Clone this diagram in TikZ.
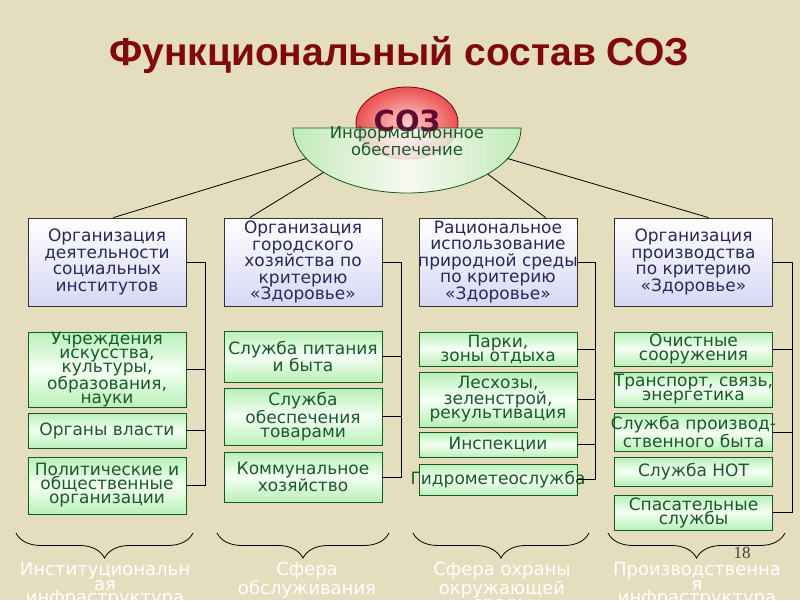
\documentclass[tikz,border=0pt]{standalone}
\usepackage{fontspec}
\setmainfont{DejaVu Sans}
\newfontfamily\titlefont{Liberation Sans}
\newfontfamily\pagefont{Liberation Serif}
\usetikzlibrary{shapes.geometric,decorations.pathreplacing,calc}

\definecolor{paper}{RGB}{228,221,190}
\definecolor{titlered}{RGB}{128,10,10}
\definecolor{navytext}{RGB}{40,40,90}
\definecolor{greentext}{RGB}{25,90,40}
\definecolor{greenline}{RGB}{20,90,30}
\definecolor{lavender}{RGB}{215,215,245}
\definecolor{paleg}{RGB}{185,240,185}
\definecolor{sozred}{RGB}{235,80,80}
\definecolor{sozpink}{RGB}{255,205,205}
\definecolor{sozborder}{RGB}{120,0,20}
\definecolor{soztext}{RGB}{95,10,50}

\tikzset{
  headbox/.style={draw=black!80, top color=white, bottom color=lavender,
    minimum width=158, minimum height=88, inner sep=0pt},
  headtext/.style={text=navytext, align=center, inner sep=0pt,
    font=\fontsize{17}{16.5}\selectfont},
  itembox/.style={draw=greenline, top color=paleg, bottom color=paleg,
    middle color=green!4, minimum width=158, inner sep=0pt},
  itemtext/.style={text=greentext, align=center, inner sep=0pt,
    font=\fontsize{17}{14}\selectfont},
  foottext/.style={text=white, align=center, anchor=north, inner sep=0pt,
    font=\fontsize{18}{13.5}\selectfont},
  bracket/.style={decorate, decoration={brace, mirror, amplitude=25}},
}

\begin{document}
\begin{tikzpicture}[x=1pt, y=-1pt, line width=0.8pt]
  % Background
  \fill[paper] (0,0) rectangle (800,600);
  \useasboundingbox (0,0) rectangle (800,600);
  \clip (0,0) rectangle (800,600);

  % Title
  \node[text=titlered, anchor=base, inner sep=0pt,
    font=\titlefont\bfseries\fontsize{39}{39}\selectfont] (title) at (399,65)
    {Функциональный состав СОЗ};

  % SOZ and the information half-disc
  \node[ellipse, draw=sozborder, inner color=sozpink, outer color=sozred,
    minimum width=102, minimum height=72] (soz) at (407,123) {};
  \coordinate (io) at (407,128);
  \draw[greenline, left color=paleg, right color=paleg, middle color=white,
    fill opacity=0.8] (io) ++(-114,0)
    arc[start angle=180, end angle=0, x radius=114, y radius=65] -- cycle;
  \node[text=soztext, inner sep=0pt,
    font=\bfseries\fontsize{29}{29}\selectfont] (sozt) at (407,121) {СОЗ};
  \node[text=greentext, align=center, inner sep=0pt,
    font=\fontsize{16.5}{13}\selectfont] (info) at (407,141)
    {Информационное\\обеспечение};

  % Head boxes
  \foreach \n/\x/\t in {
      b1/107/{Организация\\деятельности\\социальных\\институтов},
      b2/303/{Организация\\городского\\хозяйства по\\критерию\\«Здоровье»},
      b3/498/{Рациональное\\использование\\природной среды\\по критерию\\«Здоровье»},
      b4/693.5/{Организация\\производства\\по критерию\\«Здоровье»}} {
      \node[headbox] (\n) at (\x,262) {};
      \node[headtext] (\n t) at (\n) {\t};
    }

  % Item boxes
  \foreach \n/\x/\y/\h/\t in {
      u1/107/369.5/75/{Учреждения\\искусства,\\культуры,\\образования,\\науки},
      u2/107/430.5/35/{Органы власти},
      u3/107/485.5/57/{Политические и\\общественные\\организации},
      v1/303/356.5/51/{Служба питания\\и быта},
      v2/303/416.5/57/{Служба\\обеспечения\\товарами},
      v3/303/477/50/{Коммунальное\\хозяйство},
      w1/498/349/34/{Парки,\\зоны отдыха},
      w2/498/399.5/55/{Лесхозы,\\зеленстрой,\\рекультивация},
      w3/498/444.5/25/{Инспекции},
      w4/498/479.5/31/{Гидрометеослужба},
      z1/693.5/349/34/{Очистные\\сооружения},
      z2/693.5/389.5/35/{Транспорт, связь,\\энергетика},
      z3/693.5/432/38/{Служба производ-\\ственного быта},
      z4/693.5/471.5/29/{Служба НОТ},
      z5/693.5/512.5/35/{Спасательные\\службы}} {
      \node[itembox, minimum height=\h] (\n) at (\x,\y) {};
      \node[itemtext] (\n t) at (\n) {\t};
    }

  % Lines from the half-disc
  \coordinate (s1) at ($(io)+(152:114 and 65)$);
  \coordinate (s2) at ($(io)+(137:114 and 65)$);
  \coordinate (s3) at ($(io)+(45:114 and 65)$);
  \coordinate (s4) at ($(io)+(28:114 and 65)$);
  \draw (s1) -- ($(b1.north west)!0.54!(b1.north east)$);
  \draw (s2) -- ($(b2.north west)!0.165!(b2.north east)$);
  \draw (s3) -- ($(b3.north west)!0.8!(b3.north east)$);
  \draw (s4) -- ($(b4.north west)!0.595!(b4.north east)$);

  % Buses
  \coordinate (k1) at (205,0);
  \coordinate (k2) at (401,0);
  \coordinate (k3) at (595,0);
  \coordinate (k4) at (792,0);
  \draw (b1.east) -- (b1.east -| k1) -- (u3.east -| k1) -- (u3.east);
  \draw (b2.east) -- (b2.east -| k2) -- (v3.east -| k2) -- (v3.east);
  \draw (b3.east) -- (b3.east -| k3) -- (w4.east -| k3) -- (w4.east);
  \draw (b4.east) -- (b4.east -| k4) -- (z5.east -| k4) -- (z5.east);
  \foreach \n in {u1,u2} \draw (\n.east) -- (\n.east -| k1);
  \foreach \n in {v1,v2} \draw (\n.east) -- (\n.east -| k2);
  \foreach \n in {w1,w2,w3} \draw (\n.east) -- (\n.east -| k3);
  \foreach \n in {z1,z3} \draw (\n.east) -- (\n.east -| k4);

  % Braces and spheres
  \draw[bracket] (16,533) -- (193,533);
  \draw[bracket] (217,533) -- (389,533);
  \draw[bracket] (413,533) -- (589,533);
  \draw[bracket] (608,533) -- (785,533);
  \node[foottext] (f1) at (105,562) {Институциональн\\ая\\инфраструктура};
  \node[foottext] (f2) at (307,562) {Сфера\\обслуживания};
  \node[foottext] (f3) at (502,562) {Сфера охраны\\окружающей\\среды};
  \node[foottext] (f4) at (697,562) {Производственна\\я\\инфраструктура};

  \node[text=black!75, font=\pagefont\fontsize{17}{17}\selectfont] (pg) at (742,553) {18};
\end{tikzpicture}
\end{document}
